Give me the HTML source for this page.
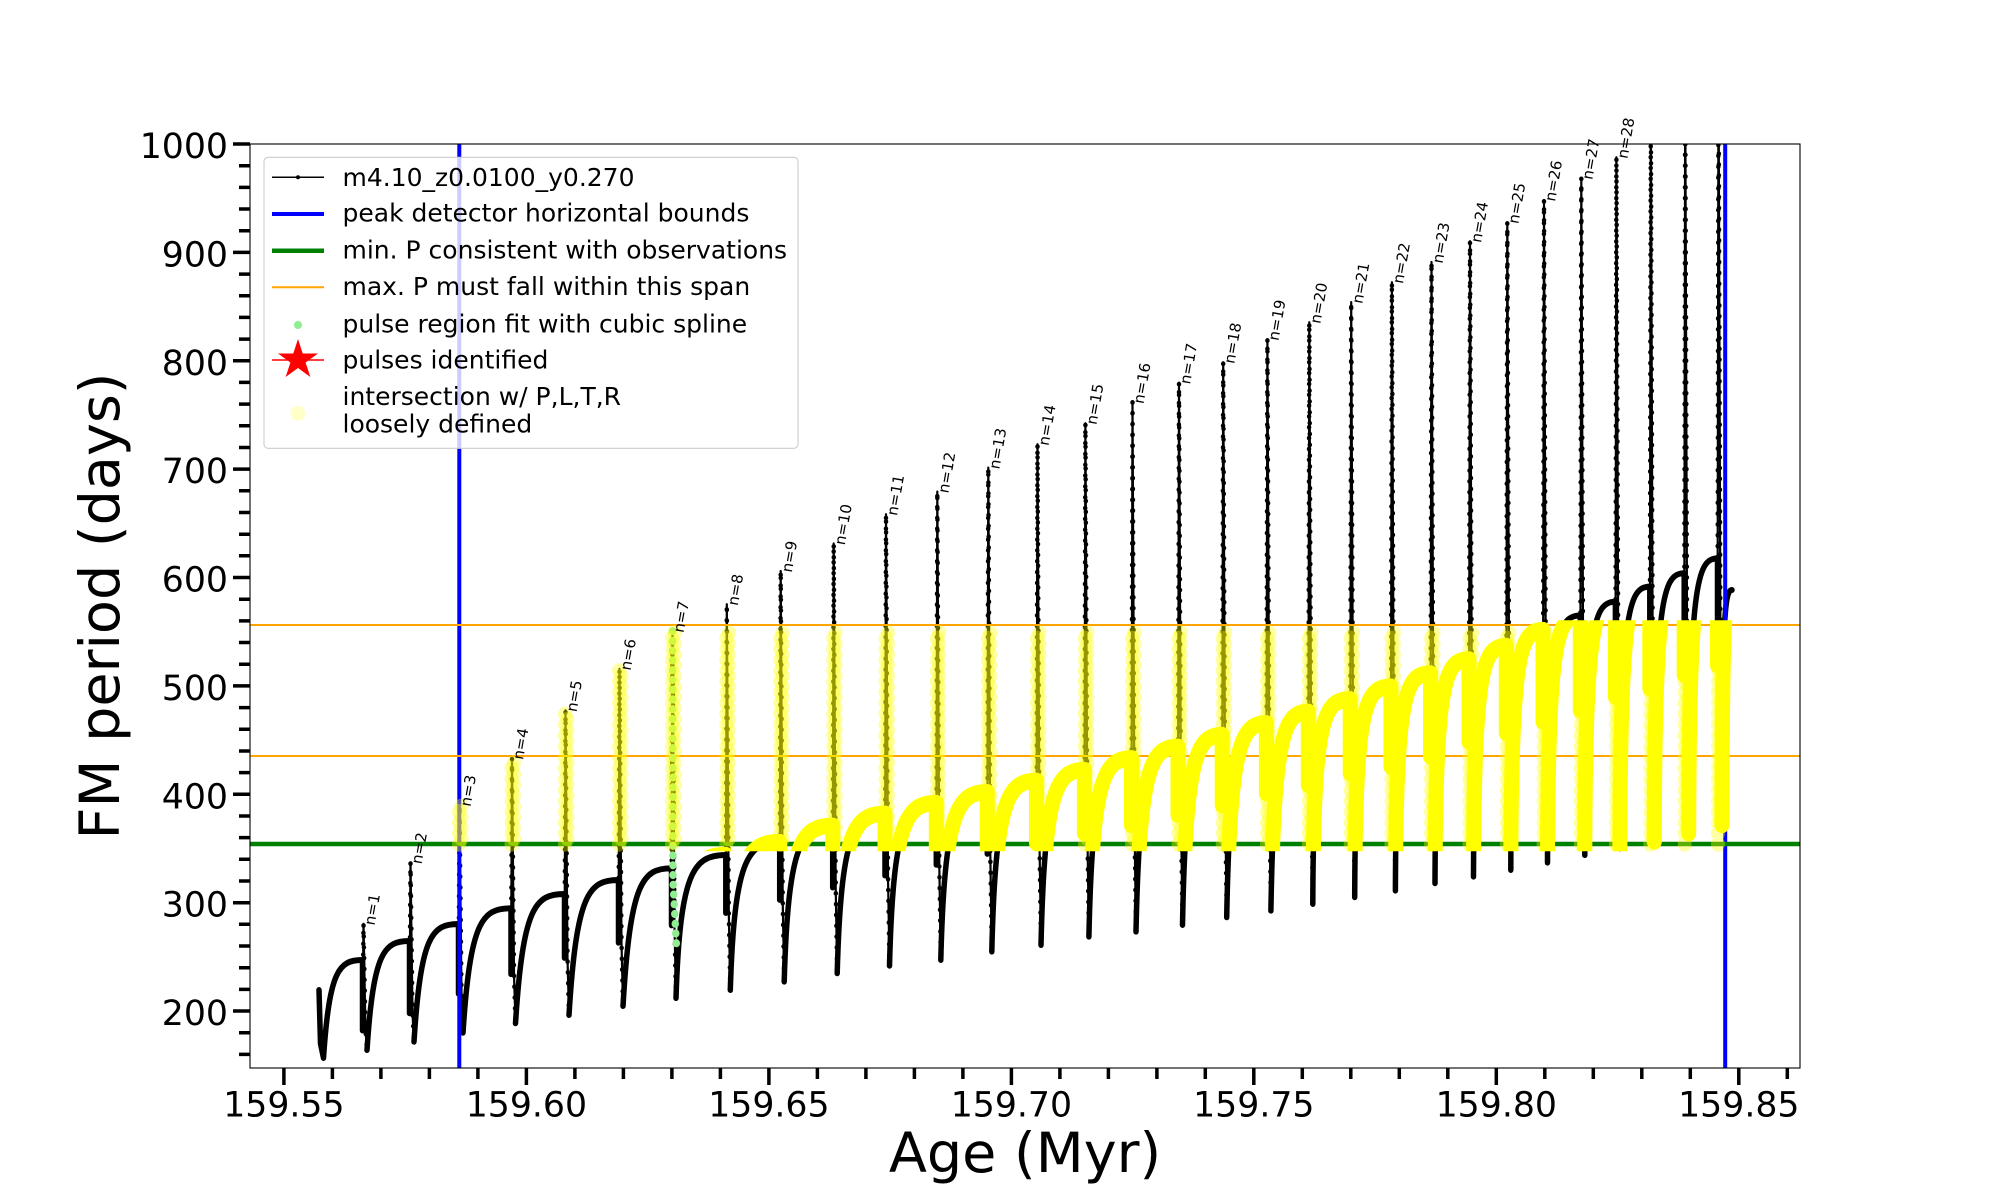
<!DOCTYPE html>
<html>
<head>
<meta charset="utf-8">
<style>
html,body{margin:0;padding:0;background:#fff;overflow:hidden;}
svg{display:block;}
</style>
</head>
<body>
<svg width="2000" height="1200" viewBox="0 0 2000 1200" xmlns="http://www.w3.org/2000/svg" font-family="'DejaVu Sans','Liberation Sans',sans-serif">
<defs>
<clipPath id="ax"><rect x="250" y="144" width="1550" height="924"/></clipPath>
<clipPath id="yb"><rect x="250" y="620.3" width="1550" height="230.9"/></clipPath>
</defs>
<rect width="2000" height="1200" fill="#fff"/>

<g clip-path="url(#ax)">
 <g transform="matrix(1 0 0 -1.0838 0 1227.8)" fill="none" stroke-linecap="round" stroke-linejoin="round">
  <path stroke="#000" stroke-width="5.5" d="M319 219.4 L320.5 170 L323.5 156.7 c5.9 81.4 15.6 90.4 39 90.4 V182
M367 164 c6.4 90.5 17 100.6 42.5 100.6 V198
M414 171.7 c6.7 97.7 17.8 108.6 44.5 108.6 V216
M463 180 c7.2 103.3 19.2 114.8 48 114.8 V234
M515.5 188.7 c7.4 107.4 19.6 119.3 49 119.3 V249
M569 196.3 c7.4 112.1 19.8 124.6 49.5 124.6 V263
M623 204.6 c7.3 114.4 19.4 127.1 48.5 127.1 V279
M676 212 c4 116.2 17.4 132 49.8 132 V290.5
M730.3 219.4 c4 120.2 17.3 136.6 49.4 136.6 V302.5
M784.2 227.1 c3.9 126.6 17 143.9 48.5 143.9 V314
M837.2 234.8 c3.8 129.5 16.7 147.2 47.8 147.2 V325
M889.5 241.8 c3.7 132.2 16.4 150.2 46.8 150.2 V335
M940.8 247.1 c3.7 136.3 16.3 154.9 46.5 154.9 V345
M991.8 254.8 c3.6 138.8 15.6 157.7 44.7 157.7 V355
M1041 260.9 c3.5 142.1 15.2 161.5 43.4 161.5 V364
M1088.9 268.6 c3.4 144.8 14.9 164.6 42.6 164.6 V371.5
M1136 273.2 c3.4 150.2 14.7 170.7 42 170.7 V381
M1182.5 279.4 c3.2 154.3 13.9 175.3 39.7 175.3 V390
M1226.7 286.5 c3.2 157.5 13.9 179 39.7 179 V401
M1270.9 292.6 c3 161.6 13.1 183.6 37.4 183.6 V408.6
M1312.8 298.8 c0.7 170 10.5 188.9 37.4 188.9 V419.4
M1354.7 305 c0.7 174.9 10.1 194.3 36.2 194.3 V425.5
M1395.4 311.1 c0.7 180.5 9.8 200.5 35.1 200.5 V434.8
M1435 317.9 c0.7 185.9 9.5 206.6 34 206.6 V448.7
M1473.5 324 c0.7 191.5 9.2 212.8 32.8 212.8 V456.6
M1510.8 330.1 c0.6 199.4 9 221.5 32.2 221.5 V467
M1547.5 336.9 c0.7 205.3 9.2 228.1 32.8 228.1 V477.8
M1584.8 343.9 c0.6 210.4 8.6 233.8 30.6 233.8 V490
M1619.9 350.1 c0.6 217.4 8.4 241.5 29.9 241.5 V497.8
M1654.3 356.3 c0.6 222.9 8.4 247.7 29.9 247.7 V510
M1688.7 364 c0.6 228.3 8.1 253.7 28.8 253.7 V519
M1722 371.7 c0.2 195.1 2.8 216.8 10 216.8"/>
  <path stroke="#000" stroke-width="2.2" d="M362.5 182 L363.5 280.4 L365.5 182 L367 164
M409.5 198 L410.5 337 L412.5 198 L414 171.7
M458.5 216 L459.5 390 L461.5 216 L463 180
M511 234 L512 433.2 L514 234 L515.5 188.7
M564.5 249 L565.5 477.3 L567.5 249 L569 196.3
M618.5 263 L619.5 515.6 L621.5 263 L623 204.6
M671.5 279 L672.5 550.5 L674.5 279 L676 212
M725.8 290.5 L726.8 575.3 L728.8 290.5 L730.3 219.4
M779.7 302.5 L780.7 606 L782.7 302.5 L784.2 227.1
M832.7 314 L833.7 631.3 L835.7 314 L837.2 234.8
M885 325 L886 658.3 L888 325 L889.5 241.8
M936.3 335 L937.3 679.2 L939.3 335 L940.8 247.1
M987.3 345 L988.3 701.3 L990.3 345 L991.8 254.8
M1036.5 355 L1037.5 722.9 L1039.5 355 L1041 260.9
M1084.4 364 L1085.4 742.3 L1087.4 364 L1088.9 268.6
M1131.5 371.5 L1132.5 761.6 L1134.5 371.5 L1136 273.2
M1178 381 L1179 779.7 L1181 381 L1182.5 279.4
M1222.2 390 L1223.2 798.6 L1225.2 390 L1226.7 286.5
M1266.4 401 L1267.4 819.8 L1269.4 401 L1270.9 292.6
M1308.3 408.6 L1309.3 835.5 L1311.3 408.6 L1312.8 298.8
M1350.2 419.4 L1351.2 854 L1353.2 419.4 L1354.7 305
M1390.9 425.5 L1391.9 872.4 L1393.9 425.5 L1395.4 311.1
M1430.5 434.8 L1431.5 891.1 L1433.5 434.8 L1435 317.9
M1469 448.7 L1470 910.2 L1472 448.7 L1473.5 324
M1506.3 456.6 L1507.3 927.7 L1509.3 456.6 L1510.8 330.1
M1543 467 L1544 948.3 L1546 467 L1547.5 336.9
M1580.3 477.8 L1581.3 968.4 L1583.3 477.8 L1584.8 343.9
M1615.4 490 L1616.4 987.7 L1618.4 490 L1619.9 350.1
M1649.8 497.8 L1650.8 1040 L1652.8 497.8 L1654.3 356.3
M1684.2 510 L1685.2 1060 L1687.2 510 L1688.7 364
M1717.5 519 L1718.5 1080 L1720.5 519 L1722 371.7"/>
  <path stroke="#000" stroke-width="4.5" stroke-dasharray="0 10" d="M362.5 182 L363.5 280.4 L365.5 182 L367 164
M409.5 198 L410.5 337 L412.5 198 L414 171.7
M458.5 216 L459.5 390 L461.5 216 L463 180
M511 234 L512 433.2 L514 234 L515.5 188.7
M564.5 249 L565.5 477.3 L567.5 249 L569 196.3
M618.5 263 L619.5 515.6 L621.5 263 L623 204.6
M671.5 279 L672.5 550.5 L674.5 279 L676 212
M725.8 290.5 L726.8 575.3 L728.8 290.5 L730.3 219.4
M779.7 302.5 L780.7 606 L782.7 302.5 L784.2 227.1
M832.7 314 L833.7 631.3 L835.7 314 L837.2 234.8
M885 325 L886 658.3 L888 325 L889.5 241.8
M936.3 335 L937.3 679.2 L939.3 335 L940.8 247.1
M987.3 345 L988.3 701.3 L990.3 345 L991.8 254.8
M1036.5 355 L1037.5 722.9 L1039.5 355 L1041 260.9
M1084.4 364 L1085.4 742.3 L1087.4 364 L1088.9 268.6
M1131.5 371.5 L1132.5 761.6 L1134.5 371.5 L1136 273.2
M1178 381 L1179 779.7 L1181 381 L1182.5 279.4
M1222.2 390 L1223.2 798.6 L1225.2 390 L1226.7 286.5
M1266.4 401 L1267.4 819.8 L1269.4 401 L1270.9 292.6
M1308.3 408.6 L1309.3 835.5 L1311.3 408.6 L1312.8 298.8
M1350.2 419.4 L1351.2 854 L1353.2 419.4 L1354.7 305
M1390.9 425.5 L1391.9 872.4 L1393.9 425.5 L1395.4 311.1
M1430.5 434.8 L1431.5 891.1 L1433.5 434.8 L1435 317.9
M1469 448.7 L1470 910.2 L1472 448.7 L1473.5 324
M1506.3 456.6 L1507.3 927.7 L1509.3 456.6 L1510.8 330.1
M1543 467 L1544 948.3 L1546 467 L1547.5 336.9
M1580.3 477.8 L1581.3 968.4 L1583.3 477.8 L1584.8 343.9
M1615.4 490 L1616.4 987.7 L1618.4 490 L1619.9 350.1
M1649.8 497.8 L1650.8 1040 L1652.8 497.8 L1654.3 356.3
M1684.2 510 L1685.2 1060 L1687.2 510 L1688.7 364
M1717.5 519 L1718.5 1080 L1720.5 519 L1722 371.7"/>
 </g>

 <line x1="459.3" y1="144" x2="459.3" y2="1068" stroke="#0000ff" stroke-width="4"/>
 <line x1="1725.2" y1="144" x2="1725.2" y2="1068" stroke="#0000ff" stroke-width="4"/>
 <line x1="250" y1="844" x2="1800" y2="844" stroke="#008000" stroke-width="4.5"/>
 <line x1="250" y1="625" x2="1800" y2="625" stroke="#ffa500" stroke-width="2"/>
 <line x1="250" y1="756" x2="1800" y2="756" stroke="#ffa500" stroke-width="2"/>

 <g transform="matrix(1 0 0 -1.0838 0 1227.8)" fill="none" stroke-linecap="round" stroke-linejoin="round">
  <path stroke="#90ee90" stroke-width="7.5" stroke-dasharray="0 9" d="M672.5 550.5 L673 320 L676.5 259.4"/>
  <path stroke="#ffff00" stroke-opacity="0.36" stroke-width="14" stroke-dasharray="0 10" d="M459 354V390 M511.5 354V433.2 M565 354V477.3 M619 354V515.6 M672 354V550.5 M726.3 354V551 M780.2 354V551 M833.2 354V551 M885.5 354V551 M936.8 354V551 M987.8 354V551 M1037 354V551 M1084.9 354V551 M1132 354V551 M1178.5 354V551 M1222.7 354V551 M1266.9 354V551 M1308.8 354V551 M1350.7 354V551 M1391.4 354V551 M1431 354V551 M1469.5 354V551 M1506.8 354V551 M1543.5 354V551 M1580.8 354V551 M1615.9 354V551 M1650.3 354V551 M1684.7 354V551 M1718 354V551"/>
  <path stroke="#ffff00" stroke-opacity="0.36" stroke-width="14" stroke-dasharray="0 10" stroke-dashoffset="5" d="M461.5 354V390 M514 354V433.2 M567.5 354V477.3 M621.5 354V515.6 M674.5 354V550.5 M728.8 354V551 M782.7 354V551 M835.7 354V551 M888 354V551 M939.3 354V551 M990.3 354V551 M1039.5 354V551 M1087.4 354V551 M1134.5 354V551 M1181 354V551 M1225.2 354V551 M1269.4 354V551 M1311.3 354V551 M1353.2 354V551 M1393.9 354V551 M1433.5 354V551 M1472 354V551 M1509.3 354V551 M1546 354V551 M1583.3 354V551 M1618.4 354V551 M1652.8 356.3V551 M1687.2 364V551 M1720.5 371.7V551"/>
 </g>

 <g clip-path="url(#yb)">
  <g transform="matrix(1 0 0 -1.0838 0 1227.8)" fill="none" stroke-linecap="round" stroke-linejoin="round">
   <path stroke="#ffff00" stroke-width="15" d="M319 219.4 L320.5 170 L323.5 156.7 c5.9 81.4 15.6 90.4 39 90.4 V182
M367 164 c6.4 90.5 17 100.6 42.5 100.6 V198
M414 171.7 c6.7 97.7 17.8 108.6 44.5 108.6 V216
M463 180 c7.2 103.3 19.2 114.8 48 114.8 V234
M515.5 188.7 c7.4 107.4 19.6 119.3 49 119.3 V249
M569 196.3 c7.4 112.1 19.8 124.6 49.5 124.6 V263
M623 204.6 c7.3 114.4 19.4 127.1 48.5 127.1 V279
M676 212 c4 116.2 17.4 132 49.8 132 V290.5
M730.3 219.4 c4 120.2 17.3 136.6 49.4 136.6 V302.5
M784.2 227.1 c3.9 126.6 17 143.9 48.5 143.9 V314
M837.2 234.8 c3.8 129.5 16.7 147.2 47.8 147.2 V325
M889.5 241.8 c3.7 132.2 16.4 150.2 46.8 150.2 V335
M940.8 247.1 c3.7 136.3 16.3 154.9 46.5 154.9 V345
M991.8 254.8 c3.6 138.8 15.6 157.7 44.7 157.7 V355
M1041 260.9 c3.5 142.1 15.2 161.5 43.4 161.5 V364
M1088.9 268.6 c3.4 144.8 14.9 164.6 42.6 164.6 V371.5
M1136 273.2 c3.4 150.2 14.7 170.7 42 170.7 V381
M1182.5 279.4 c3.2 154.3 13.9 175.3 39.7 175.3 V390
M1226.7 286.5 c3.2 157.5 13.9 179 39.7 179 V401
M1270.9 292.6 c3 161.6 13.1 183.6 37.4 183.6 V408.6
M1312.8 298.8 c0.7 170 10.5 188.9 37.4 188.9 V419.4
M1354.7 305 c0.7 174.9 10.1 194.3 36.2 194.3 V425.5
M1395.4 311.1 c0.7 180.5 9.8 200.5 35.1 200.5 V434.8
M1435 317.9 c0.7 185.9 9.5 206.6 34 206.6 V448.7
M1473.5 324 c0.7 191.5 9.2 212.8 32.8 212.8 V456.6
M1510.8 330.1 c0.6 199.4 9 221.5 32.2 221.5 V467
M1547.5 336.9 c0.7 205.3 9.2 228.1 32.8 228.1 V477.8
M1584.8 343.9 c0.6 210.4 8.6 233.8 30.6 233.8 V490
M1619.9 350.1 c0.6 217.4 8.4 241.5 29.9 241.5 V497.8
M1654.3 356.3 c0.6 222.9 8.4 247.7 29.9 247.7 V510
M1688.7 364 c0.6 228.3 8.1 253.7 28.8 253.7 V519
M1722 371.7 c0.2 195.1 2.8 216.8 10 216.8"/>
  </g>
 </g>
</g>

<g font-size="15" fill="#000">
<text transform="translate(374.5 925.9) rotate(-80)">n=1</text>
<text transform="translate(421.5 864.6) rotate(-80)">n=2</text>
<text transform="translate(470.5 807.1) rotate(-80)">n=3</text>
<text transform="translate(523 760.3) rotate(-80)">n=4</text>
<text transform="translate(576.5 712.5) rotate(-80)">n=5</text>
<text transform="translate(630.5 671) rotate(-80)">n=6</text>
<text transform="translate(683.5 633.2) rotate(-80)">n=7</text>
<text transform="translate(737.8 606.3) rotate(-80)">n=8</text>
<text transform="translate(791.7 573) rotate(-80)">n=9</text>
<text transform="translate(844.7 545.6) rotate(-80)">n=10</text>
<text transform="translate(897 516.3) rotate(-80)">n=11</text>
<text transform="translate(948.3 493.7) rotate(-80)">n=12</text>
<text transform="translate(999.3 469.7) rotate(-80)">n=13</text>
<text transform="translate(1048.5 446.3) rotate(-80)">n=14</text>
<text transform="translate(1096.4 425.3) rotate(-80)">n=15</text>
<text transform="translate(1143.5 404.4) rotate(-80)">n=16</text>
<text transform="translate(1190 384.8) rotate(-80)">n=17</text>
<text transform="translate(1234.2 364.3) rotate(-80)">n=18</text>
<text transform="translate(1278.4 341.3) rotate(-80)">n=19</text>
<text transform="translate(1320.3 324.3) rotate(-80)">n=20</text>
<text transform="translate(1362.2 304.2) rotate(-80)">n=21</text>
<text transform="translate(1402.9 284.3) rotate(-80)">n=22</text>
<text transform="translate(1442.5 264) rotate(-80)">n=23</text>
<text transform="translate(1481 243.3) rotate(-80)">n=24</text>
<text transform="translate(1518.3 224.4) rotate(-80)">n=25</text>
<text transform="translate(1555 202) rotate(-80)">n=26</text>
<text transform="translate(1592.3 180.3) rotate(-80)">n=27</text>
<text transform="translate(1627.4 159.3) rotate(-80)">n=28</text>
</g>

<rect x="250" y="144" width="1550" height="924" fill="none" stroke="#000" stroke-width="1.1"/>

<path stroke="#000" stroke-width="3.5" fill="none" d="M233 1011H250 M233 902.7H250 M233 794.3H250 M233 685.9H250 M233 577.5H250 M233 469.1H250 M233 360.8H250 M233 252.4H250 M233 144H250
M283.9 1068V1085 M526.4 1068V1085 M768.9 1068V1085 M1011.4 1068V1085 M1253.8 1068V1085 M1496.3 1068V1085 M1738.8 1068V1085"/>
<path stroke="#000" stroke-width="3.5" fill="none" d="M239 1054.4H250 M239 1032.7H250 M239 989.4H250 M239 967.7H250 M239 946H250 M239 924.3H250 M239 881H250 M239 859.3H250 M239 837.6H250 M239 816H250 M239 772.6H250 M239 751H250 M239 729.3H250 M239 707.6H250 M239 664.2H250 M239 642.5H250 M239 620.9H250 M239 599.2H250 M239 555.8H250 M239 534.2H250 M239 512.5H250 M239 490.8H250 M239 447.5H250 M239 425.8H250 M239 404.1H250 M239 382.4H250 M239 339.1H250 M239 317.4H250 M239 295.7H250 M239 274.1H250 M239 230.7H250 M239 209H250 M239 187.4H250 M239 165.7H250
M332.4 1068V1079 M380.9 1068V1079 M429.4 1068V1079 M477.9 1068V1079 M574.9 1068V1079 M623.4 1068V1079 M671.9 1068V1079 M720.4 1068V1079 M817.4 1068V1079 M865.9 1068V1079 M914.4 1068V1079 M962.9 1068V1079 M1059.9 1068V1079 M1108.4 1068V1079 M1156.9 1068V1079 M1205.3 1068V1079 M1302.3 1068V1079 M1350.8 1068V1079 M1399.3 1068V1079 M1447.8 1068V1079 M1544.8 1068V1079 M1593.3 1068V1079 M1641.8 1068V1079 M1690.3 1068V1079 M1787.3 1068V1079"/>

<g font-size="34.7" fill="#000" text-anchor="end">
<text x="228" y="1025">200</text>
<text x="228" y="916.7">300</text>
<text x="228" y="808.3">400</text>
<text x="228" y="699.9">500</text>
<text x="228" y="591.5">600</text>
<text x="228" y="483.1">700</text>
<text x="228" y="374.8">800</text>
<text x="228" y="266.4">900</text>
<text x="228" y="158">1000</text>
</g>
<g font-size="34.7" fill="#000" text-anchor="middle">
<text x="283.9" y="1116.7">159.55</text>
<text x="526.4" y="1116.7">159.60</text>
<text x="768.9" y="1116.7">159.65</text>
<text x="1011.4" y="1116.7">159.70</text>
<text x="1253.8" y="1116.7">159.75</text>
<text x="1496.3" y="1116.7">159.80</text>
<text x="1738.8" y="1116.7">159.85</text>
</g>

<text x="1025" y="1172" font-size="55.6" text-anchor="middle" fill="#000">Age (Myr)</text>
<text transform="translate(119 606) rotate(-90)" font-size="55.6" text-anchor="middle" fill="#000">FM period (days)</text>

<rect x="264" y="157.3" width="534" height="291" rx="4" ry="4" fill="#fff" fill-opacity="0.8" stroke="#cccccc" stroke-width="1.1"/>
<line x1="272" y1="177.3" x2="324" y2="177.3" stroke="#000" stroke-width="1.5"/>
<circle cx="298" cy="177.3" r="2" fill="#000"/>
<line x1="272" y1="214" x2="324" y2="214" stroke="#0000ff" stroke-width="4"/>
<line x1="272" y1="250.7" x2="324" y2="250.7" stroke="#008000" stroke-width="4.5"/>
<line x1="272" y1="287.3" x2="324" y2="287.3" stroke="#ffa500" stroke-width="2"/>
<circle cx="298" cy="325" r="4" fill="#90ee90"/>
<line x1="272" y1="360" x2="324" y2="360" stroke="#ff0000" stroke-width="1.5"/>
<polygon fill="#ff0000" points="298,339 302.7,353.53 317.97,353.51 305.61,362.47 310.34,376.99 298,368 285.66,376.99 290.39,362.47 278.03,353.51 293.3,353.53"/>
<circle cx="298" cy="413.3" r="7.5" fill="#ffff00" fill-opacity="0.22"/>
<g font-size="25" fill="#000">
<text x="342.5" y="186">m4.10_z0.0100_y0.270</text>
<text x="342.5" y="221.7">peak detector horizontal bounds</text>
<text x="342.5" y="258.3">min. P consistent with observations</text>
<text x="342.5" y="295">max. P must fall within this span</text>
<text x="342.5" y="332.3">pulse region fit with cubic spline</text>
<text x="342.5" y="368.3">pulses identified</text>
<text x="342.5" y="405">intersection w/ P,L,T,R</text>
<text x="342.5" y="432.3">loosely defined</text>
</g>
</svg>
</body>
</html>
